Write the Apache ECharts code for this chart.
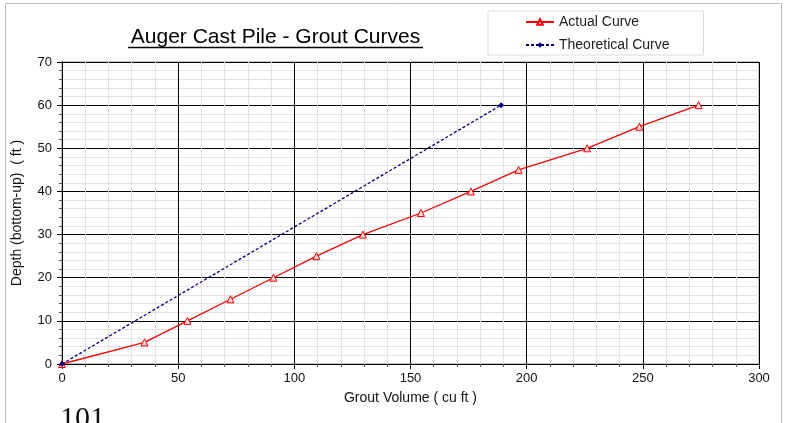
<!DOCTYPE html>
<html><head><meta charset="utf-8">
<script src="https://cdn.jsdelivr.net/npm/echarts@6/dist/echarts.min.js"></script>
<style>html,body{margin:0;padding:0;background:#fff}#c{width:798px;height:423px}</style>
</head><body><div id="c"></div>
<script>
const depth = [0, 5, 10, 15, 20, 25, 30, 35, 40, 45, 50, 55, 60];
const actualVolume = [0, 35.5, 54, 72.5, 91, 109.5, 129.5, 154.5, 176, 196.5, 226, 248.5, 274];
const theoDepth = [0, 60];
const theoVolume = [0, 189];
const seriesNames = ['Actual Curve', 'Theoretical Curve'];
const titleText = 'Auger Cast Pile - Grout Curves';
const xName = 'Grout Volume ( cu ft )';
const yName = 'Depth (bottom-up)  ( ft )';

const font = 'Liberation Sans, Arial, sans-serif';
const chart = echarts.init(document.getElementById('c'), null, {renderer: 'canvas'});
chart.setOption({
  animation: false,
  textStyle: {fontFamily: font},
  grid: {left: 62, right: 39, top: 62, bottom: 59, show: true, borderColor: '#8a8a8a', borderWidth: 1, backgroundColor: 'transparent'},
  legend: {
    orient: 'vertical', left: 488, top: 11,
    padding: [4, 34, 3, 37], itemGap: 9,
    borderColor: '#dcdcdc', borderWidth: 1,
    itemWidth: 28, itemHeight: 7,
    textStyle: {fontSize: 14, color: '#222', fontFamily: font},
    data: seriesNames
  },
  graphic: [
    {type: 'rect', shape: {x: 5.5, y: 3.5, width: 776, height: 440}, style: {fill: 'none', stroke: '#c0c0c0', lineWidth: 1}, z: -10},
    {type: 'text', x: 275.5, y: 37, style: {text: titleText, font: '21px ' + font, fill: '#000', textAlign: 'center', textVerticalAlign: 'middle'}},
    {type: 'line', shape: {x1: 128, y1: 47.5, x2: 423, y2: 47.5}, style: {stroke: '#000', lineWidth: 1.5}},
    {type: 'text', x: 60, y: 404, style: {text: '101', font: '30px "Liberation Serif", "DejaVu Serif", serif', fill: '#111', textAlign: 'left', textVerticalAlign: 'top'}}
  ],
  xAxis: {
    type: 'value', min: 0, max: 300, interval: 50,
    name: xName, nameLocation: 'middle', nameGap: 27,
    nameTextStyle: {fontSize: 14, color: '#111', fontFamily: font},
    axisLine: {lineStyle: {color: '#000', width: 1}},
    axisTick: {show: true, length: 5, lineStyle: {color: '#000'}},
    minorTick: {show: true, splitNumber: 5, length: 3, lineStyle: {color: '#555'}},
    axisLabel: {fontSize: 13, color: '#111', margin: 8},
    splitLine: {show: true, lineStyle: {color: '#000', width: 1}},
    minorSplitLine: {show: true, lineStyle: {color: '#e2e2e2', width: 1}}
  },
  yAxis: {
    type: 'value', min: 0, max: 70, interval: 10,
    name: yName, nameLocation: 'middle', nameGap: 38, nameRotate: 90,
    nameTextStyle: {fontSize: 14, color: '#111', fontFamily: font},
    axisLine: {show: true, lineStyle: {color: '#000', width: 1}},
    axisTick: {show: true, length: 5, lineStyle: {color: '#000'}},
    minorTick: {show: true, splitNumber: 5, length: 3, lineStyle: {color: '#555'}},
    axisLabel: {fontSize: 13, color: '#111', margin: 10},
    splitLine: {show: true, lineStyle: {color: '#000', width: 1}},
    minorSplitLine: {show: true, lineStyle: {color: '#e2e2e2', width: 1}}
  },
  series: [
    {
      name: seriesNames[0], type: 'line',
      data: actualVolume.map((v, i) => [v, depth[i]]),
      symbol: 'triangle', symbolSize: 7, showAllSymbol: true,
      lineStyle: {color: '#ff0000', width: 1.3},
      itemStyle: {color: '#ffdddd', borderColor: '#ff0000', borderWidth: 1},
      z: 3
    },
    {
      name: seriesNames[1], type: 'line',
      data: theoVolume.map((v, i) => [v, theoDepth[i]]),
      symbol: 'diamond', symbolSize: 6,
      lineStyle: {color: '#000080', width: 1.3, type: [3, 2]},
      itemStyle: {color: '#000080', borderColor: '#000080', borderWidth: 0},
      z: 4
    }
  ]
});
</script>
</body></html>
